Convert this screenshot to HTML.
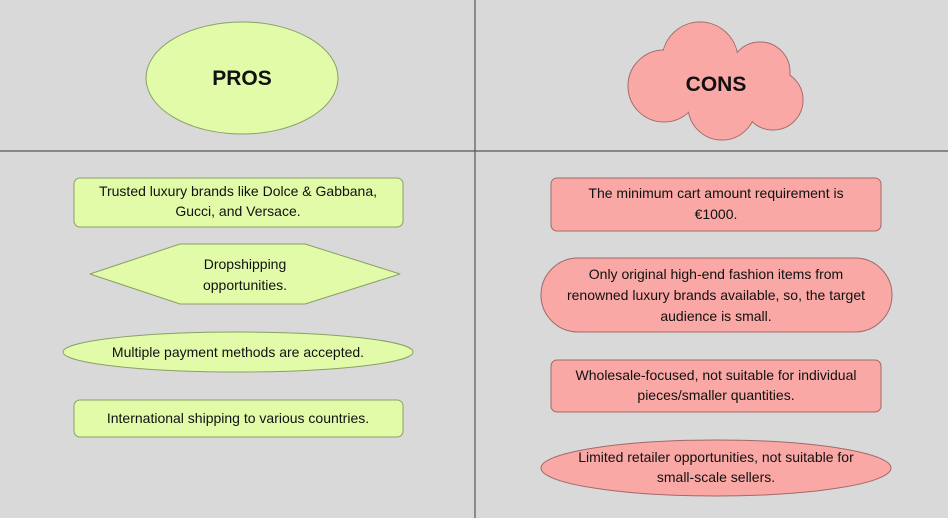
<!DOCTYPE html>
<html><head><meta charset="utf-8"><style>
html,body{margin:0;padding:0;background:#d9d9d9;}
svg{display:block;}
text{font-family:"Liberation Sans",sans-serif;font-size:14px;fill:#111;text-anchor:middle;}
.t{font-size:21px;font-weight:bold;}
.g{fill:#e2fba9;stroke:#8aa066;stroke-width:1;}
.p{fill:#f9a8a5;stroke:#a06a68;stroke-width:1;}
</style></head><body>
<svg width="948" height="518" viewBox="0 0 948 518">
<rect width="948" height="518" fill="#d9d9d9"/>
<line x1="475" y1="0" x2="475" y2="518" stroke="#555" stroke-width="1.2"/>
<line x1="0" y1="151" x2="948" y2="151" stroke="#555" stroke-width="1.2"/>

<ellipse class="g" cx="242" cy="78" rx="96" ry="56"/>
<text class="t" x="242" y="85">PROS</text>

<g>
<circle cx="700" cy="60" r="38" class="p"/>
<circle cx="760" cy="72" r="30" class="p"/>
<circle cx="773" cy="100" r="30" class="p"/>
<circle cx="722" cy="106" r="34" class="p"/>
<circle cx="664" cy="86" r="36" class="p"/>
<g fill="#f9a8a5">
<circle cx="700" cy="60" r="37.5"/>
<circle cx="760" cy="72" r="29.5"/>
<circle cx="773" cy="100" r="29.5"/>
<circle cx="722" cy="106" r="33.5"/>
<circle cx="664" cy="86" r="35.5"/>
<rect x="680" y="70" width="80" height="40"/>
</g>
</g>
<text class="t" x="716" y="91">CONS</text>

<rect class="g" x="74" y="178" width="329" height="49" rx="6"/>
<text x="238" y="196">Trusted luxury brands like Dolce &amp; Gabbana,</text>
<text x="238" y="216">Gucci, and Versace.</text>

<polygon class="g" points="90,274 180,244 305,244 400,274 305,304 180,304" stroke-linejoin="round"/>
<text x="245" y="269">Dropshipping</text>
<text x="245" y="290">opportunities.</text>

<ellipse class="g" cx="238" cy="352" rx="175" ry="20"/>
<text x="238" y="357">Multiple payment methods are accepted.</text>

<rect class="g" x="74" y="400" width="329" height="37" rx="6"/>
<text x="238" y="423">International shipping to various countries.</text>

<rect class="p" x="551" y="178" width="330" height="53" rx="6"/>
<text x="716" y="198">The minimum cart amount requirement is</text>
<text x="716" y="219">€1000.</text>

<rect class="p" x="541" y="258" width="351" height="74" rx="37"/>
<text x="716" y="279">Only original high-end fashion items from</text>
<text x="716" y="300">renowned luxury brands available, so, the target</text>
<text x="716" y="321">audience is small.</text>

<rect class="p" x="551" y="360" width="330" height="52" rx="6"/>
<text x="716" y="380">Wholesale-focused, not suitable for individual</text>
<text x="716" y="400">pieces/smaller quantities.</text>

<ellipse class="p" cx="716" cy="468" rx="175" ry="28"/>
<text x="716" y="462">Limited retailer opportunities, not suitable for</text>
<text x="716" y="482">small-scale sellers.</text>
</svg>
</body></html>
